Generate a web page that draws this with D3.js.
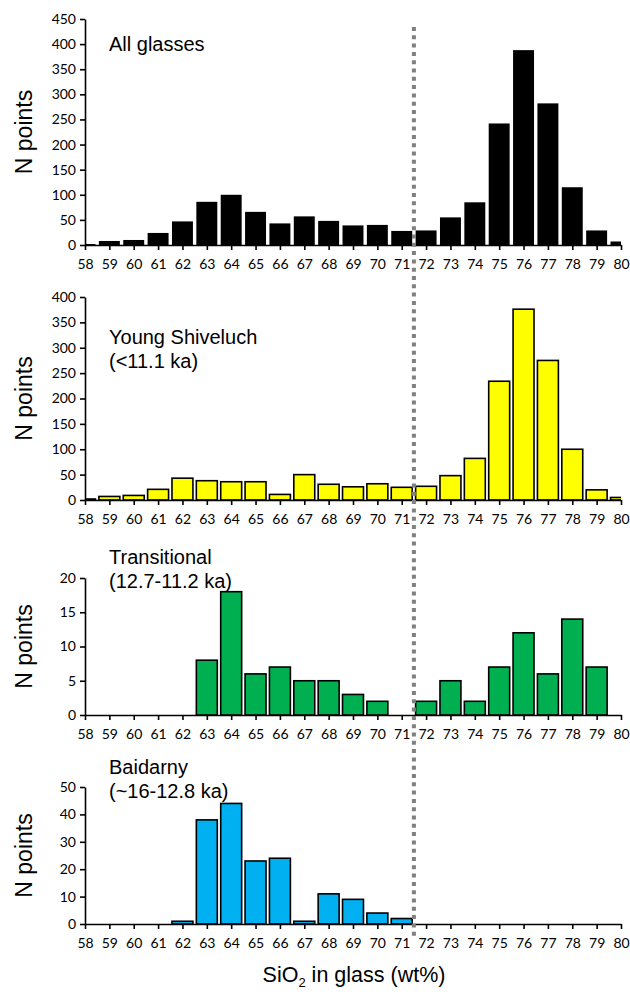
<!DOCTYPE html>
<html>
<head>
<meta charset="utf-8">
<script src="https://cdn.jsdelivr.net/npm/d3@7"></script>
<style>
  html, body { margin: 0; padding: 0; background: #fff; }
  svg { display: block; }
</style>
</head>
<body>
<script>
// ---- data ----
const silica = [58,59,60,61,62,63,64,65,66,67,68,69,70,71,72,73,74,75,76,77,78,79,80];
const allGlasses     = [2,8,10,24,47,86,100,66,43,57,48,39,40,28,29,55,85,242,388,282,115,29,7];
const youngShiveluch = [2,7,9,21,43,38,36,36,11,50,31,26,32,25,27,48,82,234,376,275,100,20,5];
const transitional   = [0,0,0,0,0,8,18,6,7,5,5,3,2,0,2,5,2,7,12,6,14,7,0];
const baidarny       = [0,0,0,0,1,38,44,23,24,1,11,9,4,2,0,0,0,0,0,0,0,0,0];
const yTicksAll   = [0,50,100,150,200,250,300,350,400,450];
const yTicksYoung = [0,50,100,150,200,250,300,350,400];
const yTicksTrans = [0,5,10,15,20];
const yTicksBaid  = [0,10,20,30,40,50];
const titlesAll   = ["All glasses"];
const titlesYoung = ["Young Shiveluch", "(<11.1 ka)"];
const titlesTrans = ["Transitional", "(12.7-11.2 ka)"];
const titlesBaid  = ["Baidarny", "(~16-12.8 ka)"];
const divider = 71.5;

// ---- layout ----
const W = 630, H = 995;
const x0 = 85, x1 = 621;
const panels = [
  {values: allGlasses,     ticks: yTicksAll,   titles: titlesAll,   top: 19,  bottom: 245, fill: "#000000", stroke: "none",   titleY: 51},
  {values: youngShiveluch, ticks: yTicksYoung, titles: titlesYoung, top: 297, bottom: 500, fill: "#FFFF00", stroke: "#000", titleY: 344},
  {values: transitional,   ticks: yTicksTrans, titles: titlesTrans, top: 578, bottom: 715, fill: "#00B050", stroke: "#000", titleY: 564},
  {values: baidarny,       ticks: yTicksBaid,  titles: titlesBaid,  top: 787, bottom: 924, fill: "#00B0F0", stroke: "#000", titleY: 774}
];

const svg = d3.select("body").append("svg").attr("width", W).attr("height", H);
const x = d3.scaleLinear().domain([58, 80]).range([x0, x1]);
const step = x(59) - x(58);
const bw = step * 0.86;

svg.append("defs").append("clipPath").attr("id", "plotclip")
  .append("rect").attr("x", x0).attr("y", 0).attr("width", x1 - x0).attr("height", H);

const tickFont = "Lato, 'Open Sans', sans-serif";
const textFont = "'Liberation Sans', Arial, sans-serif";

panels.forEach((p, i) => {
  const y = d3.scaleLinear().domain([0, d3.max(p.ticks)]).range([p.bottom, p.top]);
  const g = svg.append("g");

  // bars
  const bars = g.append("g").attr("clip-path", "url(#plotclip)");
  bars.selectAll("rect")
    .data(silica.map((s, k) => ({s, v: p.values[k]})).filter(d => d.v > 0))
    .join("rect")
    .attr("x", d => x(d.s) - bw / 2)
    .attr("y", d => y(d.v))
    .attr("width", bw)
    .attr("height", d => y(0) - y(d.v))
    .attr("fill", p.fill)
    .attr("stroke", p.stroke)
    .attr("stroke-width", p.stroke === "none" ? 0 : 1.6);

  // y axis
  const ya = g.append("g").attr("transform", `translate(${x0},0)`)
    .call(d3.axisLeft(y).tickValues(p.ticks).tickSize(5).tickPadding(4).tickSizeOuter(0));
  ya.select(".domain").attr("stroke", "#000").attr("stroke-width", 1.6);
  ya.selectAll(".tick line").attr("stroke", "#000").attr("stroke-width", 1.6);
  ya.selectAll(".tick text").attr("font-family", tickFont).attr("font-size", 14).attr("fill", "#000");

  // x axis
  const xa = g.append("g").attr("transform", `translate(0,${p.bottom})`)
    .call(d3.axisBottom(x).tickValues(silica).tickFormat(d3.format("d")).tickSize(5).tickPadding(9).tickSizeOuter(0));
  xa.select(".domain").attr("stroke", "#000").attr("stroke-width", 1.6);
  xa.selectAll(".tick line").attr("stroke", "#000").attr("stroke-width", 1.6);
  xa.selectAll(".tick text").attr("font-family", tickFont).attr("font-size", 14).attr("fill", "#000");

  // y label
  g.append("text")
    .attr("transform", `translate(32,${(p.top + p.bottom) / 2}) rotate(-90)`)
    .attr("text-anchor", "middle")
    .attr("font-family", textFont).attr("font-size", 23).attr("fill", "#000")
    .text("N points");

  // panel titles
  p.titles.forEach((t, k) => {
    g.append("text")
      .attr("x", 109).attr("y", p.titleY + k * 24)
      .attr("font-family", textFont).attr("font-size", 20).attr("fill", "#000")
      .text(t);
  });
});

// dotted divider
svg.append("line")
  .attr("x1", x(divider)).attr("x2", x(divider))
  .attr("y1", 27).attr("y2", 936)
  .attr("stroke", "#808080").attr("stroke-width", 4)
  .attr("stroke-dasharray", "4,4.3");

// x axis title
const xt = svg.append("text")
  .attr("x", 354).attr("y", 982)
  .attr("text-anchor", "middle")
  .attr("font-family", textFont).attr("font-size", 21.5).attr("fill", "#000");
xt.append("tspan").text("SiO");
xt.append("tspan").attr("font-size", 13).attr("dy", 5).text("2");
xt.append("tspan").attr("dy", -5).text(" in glass (wt%)");
</script>
</body>
</html>
